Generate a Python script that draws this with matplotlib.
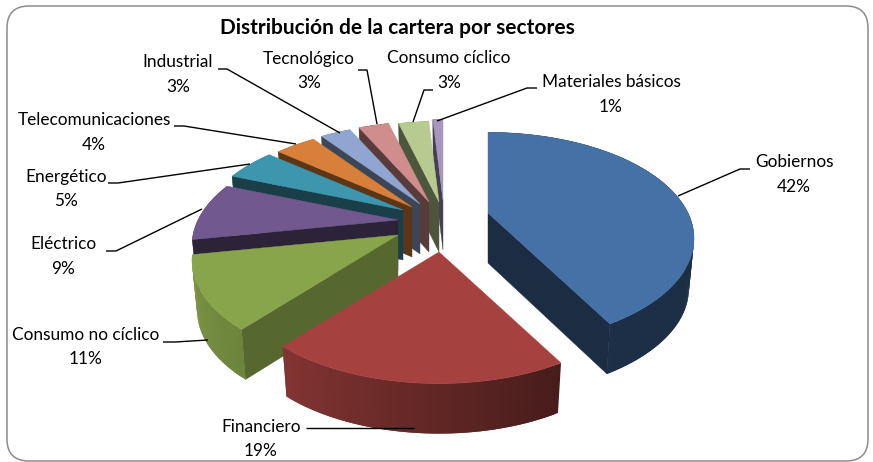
import numpy as np
import matplotlib
matplotlib.use("Agg")
import matplotlib.pyplot as plt
from matplotlib.patches import FancyBboxPatch, Polygon

# --- Data ---
sectors = ["Gobiernos", "Financiero", "Consumo no cíclico", "Eléctrico", "Energético",
           "Telecomunicaciones", "Industrial", "Tecnológico", "Consumo cíclico", "Materiales básicos"]
shares = [42, 19, 11, 9, 5, 4, 3, 3, 3, 1]

# --- Style / layout ---
colors = ["#4671A7", "#A5423F", "#88A54B", "#71588F", "#3D96AE",
          "#D88039", "#90A6D0", "#CF8E8D", "#B7CB91", "#A596BE"]
apexes = [(488, 213), (439, 252), (398, 235), (398, 220), (403, 210),
          (412, 207), (420, 204), (429, 202), (439, 202), (443, 200)]
wall_shade = [0.40, 0.42, 0.63, 0.40, 0.42, 0.42, 0.42, 0.42, 0.42, 0.42]
label_pos = [(794, 162), (261, 427), (86, 335), (63, 244), (66, 177),
             (94, 120), (178, 62), (309, 59), (449, 58), (611, 82)]
leaders = [[(750, 169), (740, 169), (678, 196)],
           [(306, 428), (414, 428)],
           [(163, 342), (175, 342), (208, 340)],
           [(106, 251), (116, 251), (202, 209)],
           [(108, 183), (118, 183), (250, 164)],
           [(174, 126), (184, 126), (296, 144)],
           [(218, 69), (227, 69), (340, 133)],
           [(358, 70), (367, 70), (377, 124)],
           [(433, 90), (424, 90), (413, 122)],
           [(537, 88), (527, 88), (437, 121)]]
RADIUS = 200
TILT = 0.5
PERSP = 0.24
DEPTH = 50
BASE_SHRINK = 0.975
LABEL_GAP = 24.5


def project(theta):
    """Pie angle (clockwise from 12 o'clock) to offset from the apex, in pixels."""
    u, v = np.sin(theta), -np.cos(theta)
    w = 1 - PERSP * v
    return RADIUS * u / w, RADIUS * TILT * v / w


def arc_shade(theta):
    # light comes from the left, right side of the front wall goes dark
    return np.interp(np.degrees(theta), [0, 150, 220, 260, 360], [0.40, 0.42, 0.80, 0.92, 0.60])


def shaded(color, f):
    return tuple(c * f for c in matplotlib.colors.to_rgb(color))


def draw_slice(ax, start, end, color, apex, wall_f):
    n = max(int(np.degrees(end - start)), 4)
    thetas = np.linspace(start, end, n + 1)
    x, y = project(thetas)
    x, y = x + apex[0], y + apex[1]
    xb = apex[0] + BASE_SHRINK * (x - apex[0])
    yb = y + DEPTH
    top = np.column_stack([np.r_[apex[0], x], np.r_[apex[1], y]])

    # outer wall, overlapping strips so the shading can change along it without seams
    for i in range(n):
        j = min(i + 2, n)
        quad = [(x[i], y[i]), *zip(x[i + 1:j + 1], y[i + 1:j + 1]),
                *zip(xb[i + 1:j + 1][::-1], yb[i + 1:j + 1][::-1]), (xb[i], yb[i])]
        c = shaded(color, arc_shade((thetas[i] + thetas[i + 1]) / 2))
        ax.add_patch(Polygon(quad, closed=True, fc=c, ec="none", zorder=2))

    # radial walls, only the ones that face the viewer
    mid = np.array([x[n // 2], y[n // 2]])
    a = np.array(apex, dtype=float)
    for p, pb in ((np.array([x[0], y[0]]), np.array([xb[0], yb[0]])),
                  (np.array([x[-1], y[-1]]), np.array([xb[-1], yb[-1]]))):
        e = p - a
        inner = e[0] * (mid - a)[1] - e[1] * (mid - a)[0]
        down = e[0] * 1.0
        if inner * down < 0:
            quad = [a, p, pb, a + (0, DEPTH)]
            c = shaded(color, wall_f)
            ax.add_patch(Polygon(quad, closed=True, fc=c, ec=c, lw=0.3, zorder=2))

    ax.add_patch(Polygon(top, closed=True, fc=color, ec=color, lw=0.3, zorder=2))


fig = plt.figure(figsize=(8.73, 4.62), dpi=100)
ax = fig.add_axes([0, 0, 1, 1])
ax.set_xlim(0, 873)
ax.set_ylim(462, 0)
ax.axis("off")

frame = FancyBboxPatch((7, 6), 861, 455, boxstyle="round,pad=0,rounding_size=22",
                       fc="none", ec="#8C8C8C", lw=1.1, zorder=1)
ax.add_patch(frame)

# --- Slices, back to front ---
edges = np.radians(np.r_[0, np.cumsum(shares)] * 3.6)
order = sorted(range(len(shares)), key=lambda i: -np.cos((edges[i] + edges[i + 1]) / 2))
for i in order:
    draw_slice(ax, edges[i], edges[i + 1], colors[i], apexes[i], wall_shade[i])

# --- Labels and leader lines ---
font = "Lato"
for name, share, pos, line in zip(sectors, shares, label_pos, leaders):
    ax.text(pos[0], pos[1], name, ha="center", va="center", fontsize=12.4, family=font, color="black", zorder=4)
    ax.text(pos[0], pos[1] + LABEL_GAP, f"{share}%", ha="center", va="center", fontsize=12.4,
            family=font, color="black", zorder=4)
    xs, ys = zip(*line)
    ax.plot(xs, ys, color="black", lw=1.0, zorder=3, solid_capstyle="butt")

ax.text(397, 28, "Distribución de la cartera por sectores", ha="center", va="center",
        fontsize=15, fontweight="bold", family=font, color="black", zorder=4)

fig.savefig("out.png", dpi=100)
